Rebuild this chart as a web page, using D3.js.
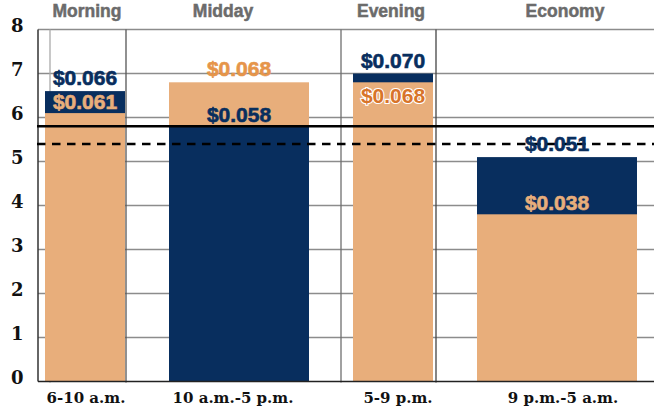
<!DOCTYPE html>
<html><head><meta charset="utf-8">
<script src="https://cdn.jsdelivr.net/npm/d3@7/dist/d3.min.js"></script>
<style>
html,body{margin:0;padding:0;background:#fff;}
svg{display:block;}
</style></head>
<body>
<svg id="chart" width="654" height="410"></svg>
<script>
// ---- data ----
const categories = ["Morning", "Midday", "Evening", "Economy"];
const periods = ["6-10 a.m.", "10 a.m.-5 p.m.", "5-9 p.m.", "9 p.m.-5 a.m."];
const hours = [4, 7, 4, 8];                 // length of each rate period
const orangeRates = [6.1, 6.8, 6.8, 3.8];   // cents per kWh
const navyRates = [6.6, 5.8, 7.0, 5.1];     // cents per kWh
const solidRef = 5.8;
const dashedRef = 5.4;
const yTicks = [0, 1, 2, 3, 4, 5, 6, 7, 8];

// ---- layout ----
const W = 654, H = 410;
const plotLeft = 38, plotRight = 654;
const ORANGE = "#e8ae7b", NAVY = "#082e5e";
const gapHours = 2.2;

const svg = d3.select("#chart");
const y = d3.scaleLinear().domain([0, 8]).range([381.5, 29.5]);

// cumulative hour positions
let acc = 0;
const spans = hours.map((h, i) => {
  const s = acc; acc += h + (i < hours.length - 1 ? gapHours : 0);
  return [s, s + h];
});
const x = d3.scaleLinear().domain([0, acc]).range([45, 637]);

const rows = categories.map((c, i) => ({
  cat: c, period: periods[i], start: spans[i][0], end: spans[i][1],
  orange: orangeRates[i], navy: navyRates[i]
}));

// horizontal gridlines
svg.append("g").selectAll("line").data(yTicks.filter(d => d > 0)).join("line")
  .attr("x1", plotLeft).attr("x2", plotRight)
  .attr("y1", d => y(d)).attr("y2", d => y(d))
  .attr("stroke", "#8c8c8c").attr("stroke-width", 1.3);

// frame lines around Morning and Evening columns
const frames = [
  {i: 0, l: 0.25, r: 0.05, lc: "#aaaaaa", rc: "#555555"},
  {i: 2, l: -0.6, r: 0.15, lc: "#6f6f6f", rc: "#444444"}
];
frames.forEach(f => {
  const r = rows[f.i];
  [[r.start + f.l, f.lc], [r.end + f.r, f.rc]].forEach(([h, c]) => {
    svg.append("line").attr("x1", x(h)).attr("x2", x(h))
      .attr("y1", y(8)).attr("y2", y(0) + 1)
      .attr("stroke", c).attr("stroke-width", 1.3);
  });
});

// bars: taller one behind, shorter in front
const barG = svg.append("g");
rows.forEach(r => {
  const bars = [{v: r.orange, c: ORANGE}, {v: r.navy, c: NAVY}].sort((a, b) => b.v - a.v);
  barG.selectAll(null).data(bars).join("rect")
    .attr("x", x(r.start)).attr("width", x(r.end) - x(r.start))
    .attr("y", d => y(d.v)).attr("height", d => y(0) - y(d.v))
    .attr("fill", d => d.c);
});

// axes lines
svg.append("line").attr("x1", plotLeft).attr("x2", plotLeft)
  .attr("y1", y(8)).attr("y2", y(0)).attr("stroke", "#333").attr("stroke-width", 1.5);
svg.append("line").attr("x1", plotLeft).attr("x2", plotRight)
  .attr("y1", y(0)).attr("y2", y(0)).attr("stroke", "#222").attr("stroke-width", 1.6);

// reference lines
svg.append("line").attr("x1", plotLeft - 1).attr("x2", plotRight)
  .attr("y1", y(solidRef)).attr("y2", y(solidRef))
  .attr("stroke", "#000").attr("stroke-width", 2.5);
svg.append("line").attr("x1", plotLeft - 1).attr("x2", plotRight)
  .attr("y1", y(dashedRef)).attr("y2", y(dashedRef))
  .attr("stroke", "#000").attr("stroke-width", 2.5).attr("stroke-dasharray", "8.5,6.5");

// y tick labels
svg.append("g").selectAll("text").data(yTicks).join("text")
  .attr("x", 23.5).attr("y", d => y(d) + 2.5)
  .attr("text-anchor", "end")
  .attr("font-family", "DejaVu Serif").attr("font-weight", "bold")
  .attr("font-size", 18).attr("fill", "#111")
  .text(d => d);

// headers and period labels
const headerNudge = [2, -16, -2, 8];
const periodNudge = [1, -6, 5, 6];
svg.append("g").selectAll("text").data(rows).join("text")
  .attr("x", (d, i) => (x(d.start) + x(d.end)) / 2 + headerNudge[i]).attr("y", 17)
  .attr("text-anchor", "middle")
  .attr("font-family", "Liberation Sans").attr("font-weight", "bold")
  .attr("font-size", 17.5).attr("fill", "#6b6b6b")
  .attr("stroke", "#6b6b6b").attr("stroke-width", 0.5)
  .text(d => d.cat);
svg.append("g").selectAll("text").data(rows).join("text")
  .attr("x", (d, i) => (x(d.start) + x(d.end)) / 2 + periodNudge[i]).attr("y", 403)
  .attr("text-anchor", "middle")
  .attr("font-family", "DejaVu Serif").attr("font-weight", "bold")
  .attr("font-size", 15).attr("fill", "#111")
  .text(d => d.period);

// value labels
const fmt = d3.format("$.3f");
const labG = svg.append("g");
rows.forEach(r => {
  const cx = (x(r.start) + x(r.end)) / 2;
  const items = [{v: r.orange, s: "orange"}, {v: r.navy, s: "navy"}].sort((a, b) => b.v - a.v);
  const back = items[0], front = items[1];
  const gap = y(front.v) - y(back.v);
  const labels = [];
  labels.push({v: back.v, yy: y(back.v) - 6,
    fill: back.s === "navy" ? NAVY : "#e6954a", halo: false});
  if (gap >= 20) {
    labels.push({v: front.v, yy: y(front.v) - 4,
      fill: front.s === "navy" ? NAVY : ORANGE, halo: false});
  } else {
    labels.push({v: front.v, yy: y(front.v) + 21,
      fill: front.s === "navy" ? "#fff" : "#d8742a", halo: true});
  }
  labG.selectAll(null).data(labels).join("text")
    .attr("x", cx).attr("y", d => d.yy)
    .attr("text-anchor", "middle")
    .attr("font-family", "Liberation Sans").attr("font-weight", "bold")
    .attr("font-size", 21)
    .attr("fill", d => d.fill)
    .attr("stroke", d => d.halo ? "#fff" : d.fill)
    .attr("stroke-width", d => d.halo ? 2.2 : 0.6)
    .attr("paint-order", "stroke")
    .text(d => fmt(d.v / 100));
});
</script>
</body></html>
